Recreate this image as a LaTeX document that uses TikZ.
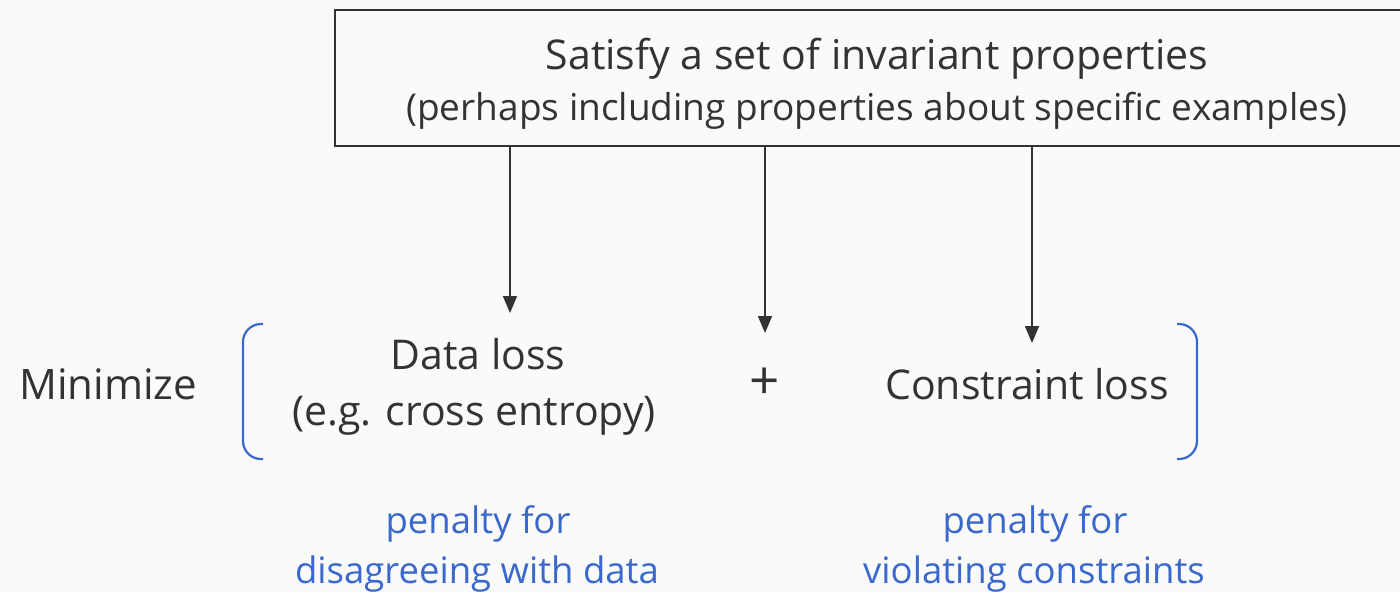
\documentclass[tikz,border=0pt]{standalone}
\usepackage{fontspec}
\setmainfont{Open Sans}
\usetikzlibrary{arrows.meta}
\definecolor{bgc}{HTML}{FAFAFA}
\definecolor{ink}{HTML}{333333}
\definecolor{accent}{HTML}{3A68CC}
\tikzset{
  txt/.style={text=ink, inner sep=0pt, anchor=base, font=\fontsize{41}{48}\selectfont},
  subtxt/.style={txt, font=\fontsize{37}{44}\selectfont},
  note/.style={text=accent, inner sep=0pt, anchor=base, font=\fontsize{36.5}{44}\selectfont},
  link/.style={draw=ink, line width=1.6pt, -{Triangle[length=17pt,width=14pt]}},
  brace/.style={draw=accent, line width=2.2pt, rounded corners=18pt},
}
\begin{document}
\begin{tikzpicture}[x=1pt,y=-1pt]
\fill[bgc] (0,0) rectangle (1400,592);
\useasboundingbox (0,0) rectangle (1400,592);
\begin{scope}
\clip (0,0) rectangle (1400,592);
% property box, open to the right
\node[draw=ink, line width=1.8pt, minimum width=1090pt, minimum height=136pt, inner sep=0pt, anchor=north west] (box) at (334,9) {};
\end{scope}
\node[txt] (t1) at (877,69) {Satisfy a set of invariant properties};
\node[subtxt] (t2) at (877,120) {(perhaps including properties about specific examples)};
% loss terms
\node[txt, font=\fontsize{42}{48}\selectfont] (min) at (108,399) {Minimize};
\node[txt] (dl) at (478,369) {Data loss};
\node[txt] (ce) at (474,425) {(e.g. cross entropy)};
\node[txt, anchor=center, font=\fontsize{53}{60}\selectfont] (plus) at (765,384) {+};
\node[txt] (cl) at (1027,399) {Constraint loss};
\coordinate (a1) at (510,313);
\coordinate (a2) at (765,333);
\coordinate (a3) at (1032,343);
\draw[link] (box.south -| a1) -- (a1);
\draw[link] (box.south -| a2) -- (a2);
\draw[link] (box.south -| a3) -- (a3);
% brackets
\coordinate (lb) at (243,392);
\coordinate (rb) at (1197,392);
\draw[brace] ([xshift=20pt,yshift=-67pt]lb) -- ([yshift=-67pt]lb) -- ([yshift=68pt]lb) -- ([xshift=20pt,yshift=68pt]lb);
\draw[brace] ([xshift=-20pt,yshift=-67pt]rb) -- ([yshift=-67pt]rb) -- ([yshift=68pt]rb) -- ([xshift=-20pt,yshift=68pt]rb);
% explanations
\node[note] (p1) at (478,533) {penalty for};
\node[note] (p2) at (477,583) {disagreeing with data};
\node[note] (p3) at (1035,533) {penalty for};
\node[note] (p4) at (1034,583) {violating constraints};
\end{tikzpicture}
\end{document}
